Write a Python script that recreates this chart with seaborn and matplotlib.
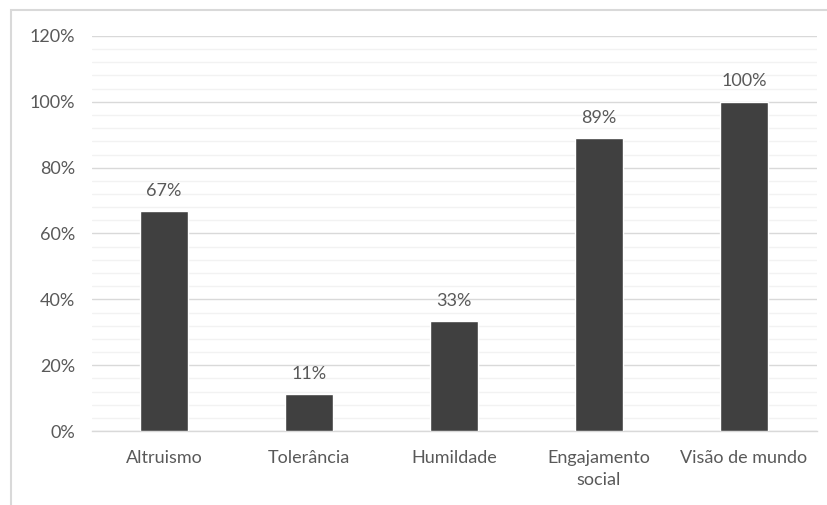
import matplotlib
matplotlib.use("Agg")
import matplotlib.pyplot as plt
import seaborn as sns
import pandas as pd
from matplotlib.ticker import PercentFormatter, MultipleLocator
from matplotlib.patches import Rectangle

# Data
categories = ["Altruismo", "Tolerância", "Humildade", "Engajamento\nsocial", "Visão de mundo"]
values = [0.667, 0.111, 0.333, 0.889, 1.0]
labels = ["67%", "11%", "33%", "89%", "100%"]

df = pd.DataFrame({"cat": categories, "val": values})

sns.set_style("white")
plt.rcParams["font.family"] = ["Lato", "DejaVu Sans"]
text_color = "#595959"

fig = plt.figure(figsize=(8.27, 5.05), dpi=100)
ax = fig.add_axes([91.5 / 827, 74 / 505, 725 / 827, 395 / 505])

sns.barplot(data=df, x="cat", y="val", color="#404040", width=0.33,
            saturation=1, ax=ax, zorder=3)

ax.set_ylim(0, 1.2)
ax.set_xlim(-0.5, 4.5)
ax.yaxis.set_major_locator(MultipleLocator(0.2))
ax.yaxis.set_minor_locator(MultipleLocator(0.04))
ax.yaxis.set_major_formatter(PercentFormatter(1.0, decimals=0))
ax.grid(axis="y", which="major", color="#d9d9d9", lw=1, zorder=0)
ax.grid(axis="y", which="minor", color="#f2f2f2", lw=1, zorder=0)
ax.set_axisbelow(True)

for s in ["top", "right", "left"]:
    ax.spines[s].set_visible(False)
ax.spines["bottom"].set_color("#d9d9d9")
ax.spines["bottom"].set_linewidth(1)

ax.tick_params(axis="both", which="both", length=0, labelsize=13, colors=text_color)
ax.tick_params(axis="y", pad=12)
ax.tick_params(axis="x", pad=14)
for t in ax.get_xticklabels():
    t.set_linespacing(1.45)
ax.set_xlabel("")
ax.set_ylabel("")

ax.bar_label(ax.containers[0], labels=labels, padding=9, fontsize=13, color=text_color)

# chart frame (cropped at right and bottom)
fig.patches.append(Rectangle((11 / 827, -0.1), 1.2, 1 - 10 / 505 + 0.1,
                             transform=fig.transFigure, fill=False,
                             edgecolor="#d9d9d9", lw=1.5))

fig.savefig("out.png", dpi=100)
